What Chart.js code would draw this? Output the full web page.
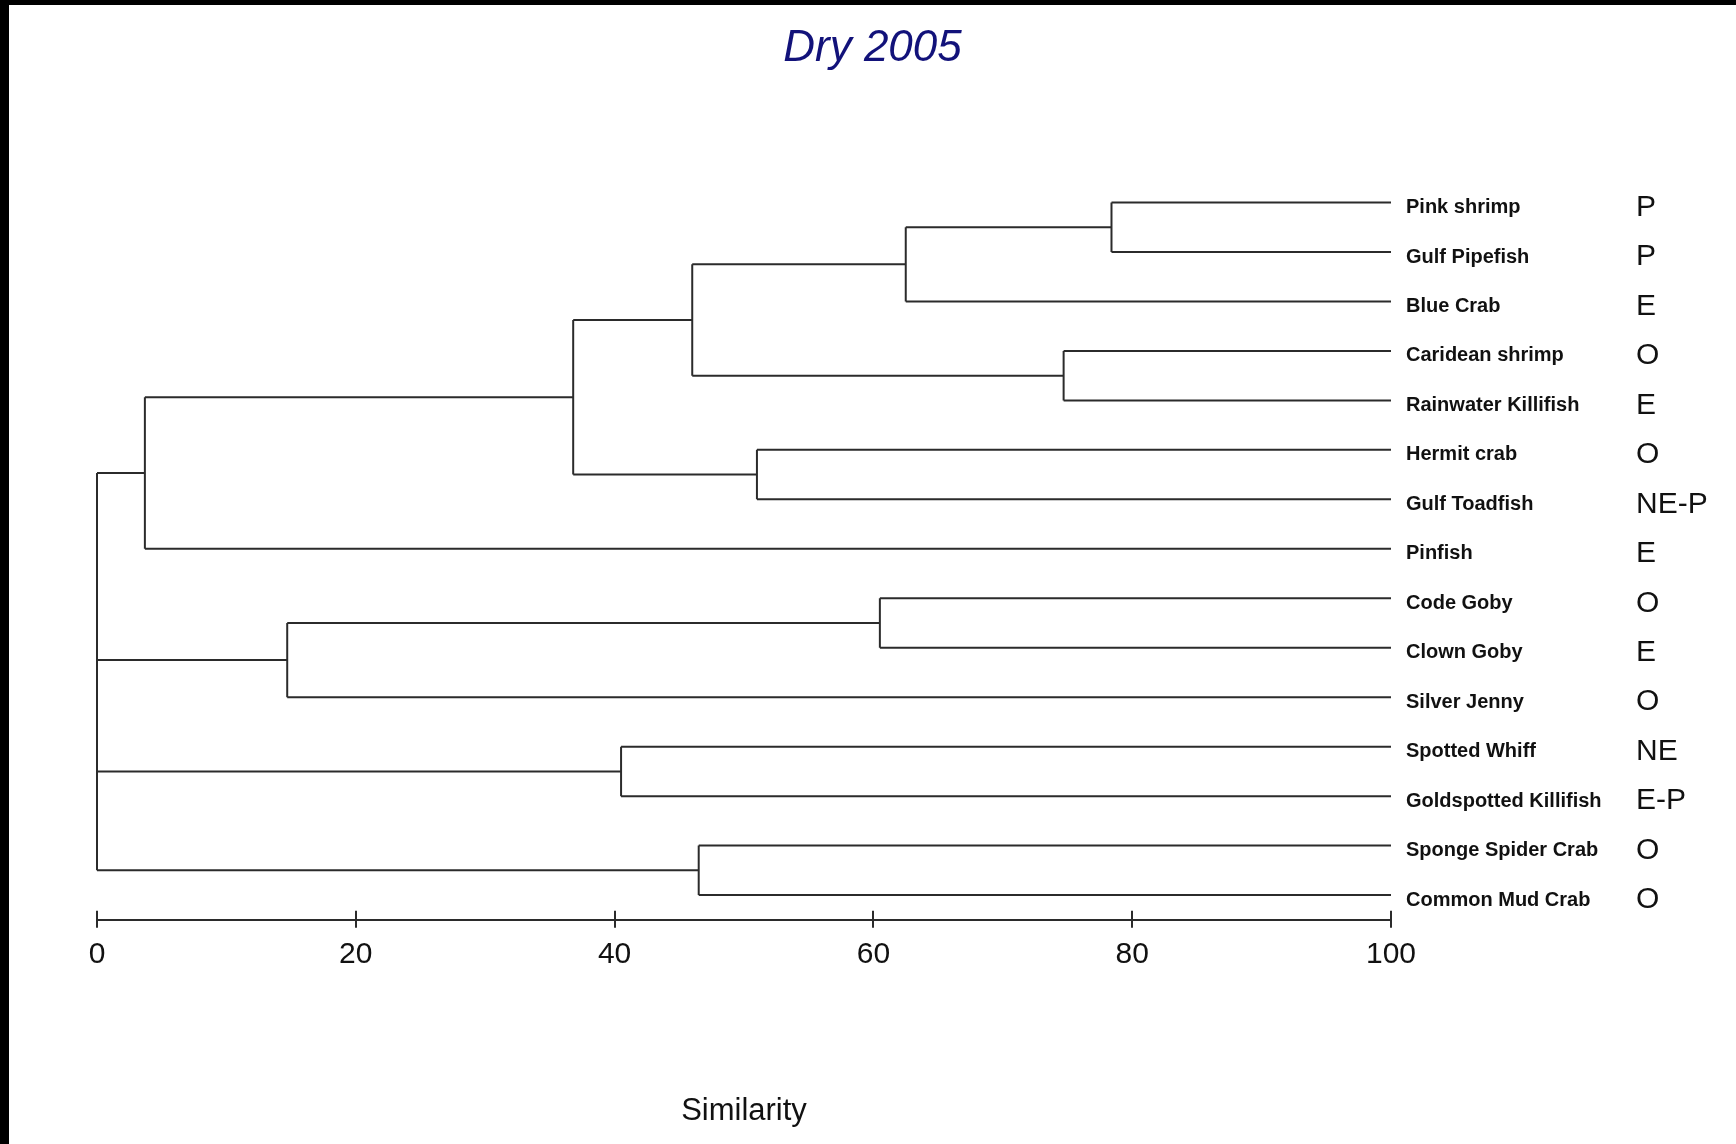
<!DOCTYPE html>
<html>
<head>
<meta charset="utf-8">
<title>Dry 2005</title>
<script src="https://cdn.jsdelivr.net/npm/chart.js@4.4.1/dist/chart.umd.min.js"></script>
<style>
  html, body { margin: 0; padding: 0; background: #fff; }
  #wrap { width: 1736px; height: 1144px; }
</style>
</head>
<body>
<div id="wrap"><canvas id="dendro" width="1736" height="1144"></canvas></div>
<script>
// Species (leaves), top to bottom
const species = ['Pink shrimp', 'Gulf Pipefish', 'Blue Crab', 'Caridean shrimp', 'Rainwater Killifish',
  'Hermit crab', 'Gulf Toadfish', 'Pinfish', 'Code Goby', 'Clown Goby', 'Silver Jenny',
  'Spotted Whiff', 'Goldspotted Killifish', 'Sponge Spider Crab', 'Common Mud Crab'];
// Guild code shown beside each species
const guilds = ['P', 'P', 'E', 'O', 'E', 'O', 'NE-P', 'E', 'O', 'E', 'O', 'NE', 'E-P', 'O', 'O'];
// Cluster joins in order: ids 0-14 are species, join k gets id 15 + k
const joinMembers = [[0, 1], [15, 2], [3, 4], [16, 17], [5, 6], [18, 19], [20, 7],
  [8, 9], [22, 10], [11, 12], [13, 14], [21, 23, 24, 25]];
// Similarity level (%) at which each join happens
const joinSimilarity = [78.4, 62.5, 74.7, 46.0, 51.0, 36.8, 3.7, 60.5, 14.7, 40.5, 46.5, 0];
// Similarity axis ticks
const similarityTicks = [0, 20, 40, 60, 80, 100];

const FONT = 'Liberation Sans, Arial, Helvetica, sans-serif';
const LINE = '#2b2b2b';

// Node positions: x = similarity, y = row (leaves sit at 100 %)
const nodeX = species.map(() => 100);
const nodeY = species.map((_, i) => i);
const datasets = [];
function seg(a, b) {
  datasets.push({
    data: [a, b], showLine: true, borderColor: LINE, borderWidth: 2,
    pointRadius: 0, pointHoverRadius: 0, fill: false, clip: 6, yAxisID: 'y'
  });
}
joinMembers.forEach((members, k) => {
  const s = joinSimilarity[k];
  const ys = members.map(m => nodeY[m]);
  const yMin = Math.min(...ys), yMax = Math.max(...ys);
  // vertical connector
  seg({ x: s, y: yMin }, { x: s, y: yMax });
  // horizontal branch from each member
  members.forEach(m => seg({ x: nodeX[m], y: nodeY[m] }, { x: s, y: nodeY[m] }));
  nodeX.push(s);
  nodeY.push((yMin + yMax) / 2);
});

// Black frame on the top and left edges, white page
const framePlugin = {
  id: 'frame',
  beforeDraw(chart) {
    const ctx = chart.ctx;
    ctx.save();
    ctx.fillStyle = '#fff';
    ctx.fillRect(0, 0, chart.width, chart.height);
    ctx.fillStyle = '#000';
    ctx.fillRect(0, 0, chart.width, 5);
    ctx.fillRect(0, 0, 9, chart.height);
    ctx.restore();
  }
};
// Tick marks on the similarity axis cross the axis line
const crossTicks = {
  id: 'crossTicks',
  afterDraw(chart) {
    const s = chart.scales.x;
    const ctx = chart.ctx;
    ctx.save();
    ctx.strokeStyle = LINE;
    ctx.lineWidth = 2;
    s.ticks.forEach(t => {
      const px = Math.round(s.getPixelForValue(t.value));
      ctx.beginPath();
      ctx.moveTo(px, s.top - 9);
      ctx.lineTo(px, s.top);
      ctx.stroke();
    });
    ctx.restore();
  }
};

const rowScale = {
  type: 'linear', min: -0.5, max: 14.5, reverse: true,
  grid: { display: false, drawTicks: false },
  border: { display: false }
};

new Chart(document.getElementById('dendro'), {
  type: 'scatter',
  data: { datasets },
  plugins: [framePlugin, crossTicks],
  options: {
    responsive: false,
    animation: false,
    devicePixelRatio: 1,
    events: [],
    layout: { padding: { left: 9, top: 5, right: 0, bottom: 0 } },
    plugins: {
      legend: { display: false },
      tooltip: { enabled: false },
      title: {
        display: true,
        text: 'Dry 2005',
        color: '#12127a',
        font: { family: FONT, size: 44, style: 'italic', weight: 'normal' },
        padding: { top: 17, bottom: 103 }
      }
    },
    scales: {
      x: {
        type: 'linear', position: 'bottom', min: 0, max: 100,
        afterBuildTicks: s => { s.ticks = similarityTicks.map(v => ({ value: v })); },
        ticks: { color: '#111', font: { family: FONT, size: 30 }, padding: 9, maxRotation: 0, autoSkip: false },
        grid: { display: true, drawOnChartArea: false, drawTicks: true, tickLength: 8, color: LINE, lineWidth: 2 },
        border: { display: true, color: LINE, width: 2 },
        title: {
          display: true, text: 'Similarity', color: '#111',
          font: { family: FONT, size: 31 }, padding: { top: 111, bottom: 14 }
        }
      },
      yl: Object.assign({}, rowScale, {
        position: 'left',
        ticks: { display: false },
        afterFit: s => { s.width = 88; }
      }),
      y: Object.assign({}, rowScale, {
        position: 'right', weight: 0,
        afterBuildTicks: s => { s.ticks = species.map((_, i) => ({ value: i })); },
        ticks: {
          callback: v => species[v], color: '#111', autoSkip: false,
          font: { family: FONT, size: 20, weight: 'bold' },
          padding: 15, crossAlign: 'near', labelOffset: 5
        },
        afterFit: s => { s.width = 245; }
      }),
      y2: Object.assign({}, rowScale, {
        position: 'right', weight: 1,
        afterBuildTicks: s => { s.ticks = guilds.map((_, i) => ({ value: i })); },
        ticks: {
          callback: v => guilds[v], color: '#111', autoSkip: false,
          font: { family: FONT, size: 30 },
          padding: 0, crossAlign: 'near', labelOffset: 5
        },
        afterFit: s => { s.width = 100; }
      })
    }
  }
});
</script>
</body>
</html>
